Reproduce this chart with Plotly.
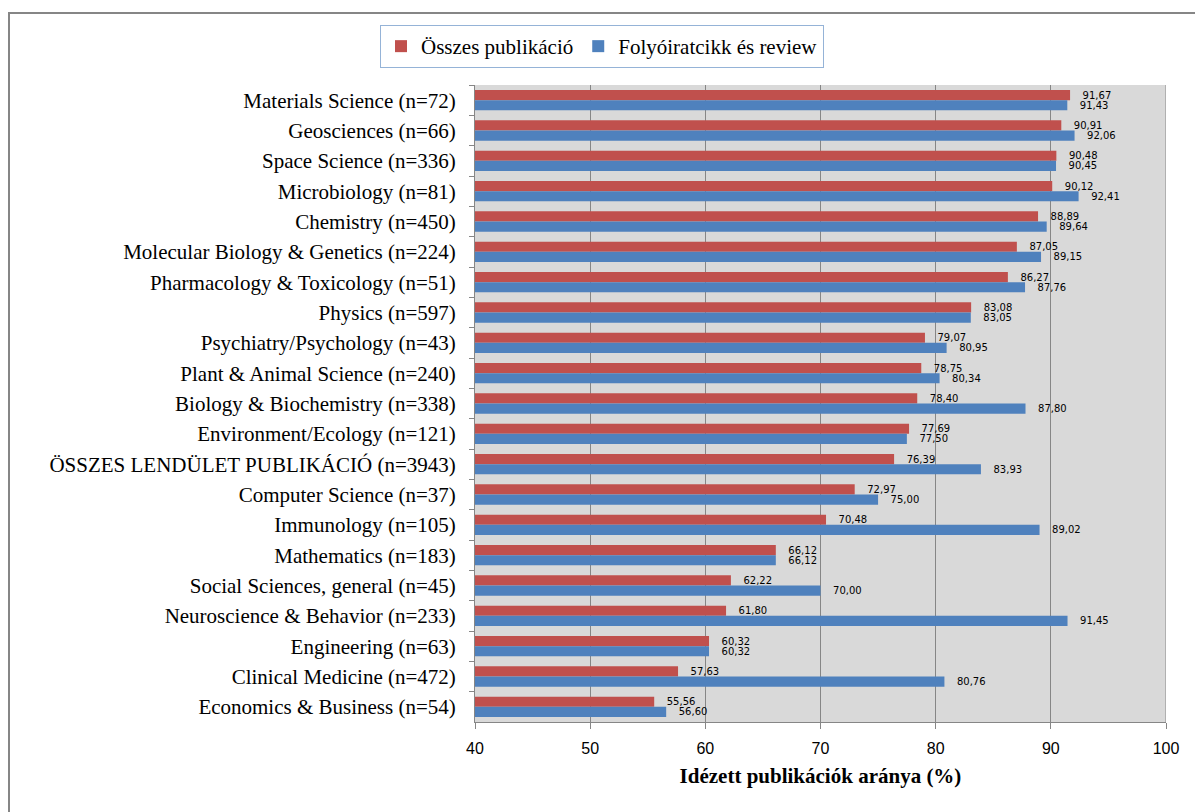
import plotly.graph_objects as go

categories = [
    "Materials Science (n=72)",
    "Geosciences (n=66)",
    "Space Science (n=336)",
    "Microbiology (n=81)",
    "Chemistry (n=450)",
    "Molecular Biology & Genetics (n=224)",
    "Pharmacology & Toxicology (n=51)",
    "Physics (n=597)",
    "Psychiatry/Psychology (n=43)",
    "Plant & Animal Science (n=240)",
    "Biology & Biochemistry (n=338)",
    "Environment/Ecology (n=121)",
    "ÖSSZES LENDÜLET PUBLIKÁCIÓ (n=3943)",
    "Computer Science (n=37)",
    "Immunology (n=105)",
    "Mathematics (n=183)",
    "Social Sciences, general (n=45)",
    "Neuroscience & Behavior (n=233)",
    "Engineering (n=63)",
    "Clinical Medicine (n=472)",
    "Economics & Business (n=54)",
]

osszes = [91.67, 90.91, 90.48, 90.12, 88.89, 87.05, 86.27, 83.08, 79.07, 78.75,
          78.40, 77.69, 76.39, 72.97, 70.48, 66.12, 62.22, 61.80, 60.32, 57.63, 55.56]
folyoirat = [91.43, 92.06, 90.45, 92.41, 89.64, 89.15, 87.76, 83.05, 80.95, 80.34,
             87.80, 77.50, 83.93, 75.00, 89.02, 66.12, 70.00, 91.45, 60.32, 80.76, 56.60]

x_ticks = [40, 50, 60, 70, 80, 90, 100]

series = [
    ("Összes publikáció", osszes, "#c0504d"),
    ("Folyóiratcikk és review", folyoirat, "#4f81bd"),
]


def hu(v):
    return f"{v:.2f}".replace(".", ",")


fig = go.Figure()
for name, vals, color in series:
    fig.add_trace(go.Bar(
        y=categories,
        x=vals,
        name=name,
        orientation="h",
        marker=dict(color=color, line=dict(width=0)),
        text=[hu(v) for v in vals],
        texttemplate="\u00a0\u00a0\u00a0%{text}",
        textposition="outside",
        constraintext="none",
        cliponaxis=False,
        textfont=dict(family="DejaVu Sans", size=10, color="#000000"),
    ))

W, H = 1195, 812
ML, MR, MT, MB = 475, 29, 85, 90
pw, ph = W - ML - MR, H - MT - MB


def px_to_paper(px, py):
    return (px - ML) / pw, (H - MB - py) / ph


bx0, by0 = px_to_paper(9, 13)
bx1, by1 = px_to_paper(W + 5, H + 5)

fig.update_layout(
    width=W,
    height=H,
    margin=dict(l=ML, r=MR, t=MT, b=MB),
    paper_bgcolor="white",
    plot_bgcolor="#d9d9d9",
    barmode="group",
    bargap=0.33,
    bargroupgap=0,
    font=dict(family="Liberation Serif", color="#000000"),
    legend=dict(
        orientation="h",
        x=px_to_paper(602, 0)[0],
        xanchor="center",
        y=px_to_paper(0, 25)[1],
        yanchor="top",
        bordercolor="#95b3d7",
        borderwidth=1,
        bgcolor="white",
        font=dict(family="Liberation Serif", size=21),
        traceorder="normal",
    ),
    xaxis=dict(
        range=[40, 100],
        tickvals=x_ticks,
        ticktext=[str(t) for t in x_ticks],
        showgrid=True,
        gridcolor="#868686",
        gridwidth=1,
        showline=True,
        linecolor="#868686",
        linewidth=1,
        ticks="outside",
        ticklen=6,
        tickcolor="#868686",
        ticklabelstandoff=6,
        tickfont=dict(family="Liberation Sans", size=16),
        zeroline=False,
        title=dict(
            text="<b>Idézett publikációk aránya (%)</b>",
            font=dict(family="Liberation Serif", size=21),
            standoff=12,
        ),
    ),
    yaxis=dict(
        autorange="reversed",
        showline=True,
        linecolor="#868686",
        linewidth=1,
        ticks="outside",
        tickson="boundaries",
        ticklen=5,
        tickcolor="#868686",
        ticklabelstandoff=14,
        tickfont=dict(family="Liberation Serif", size=21),
        showgrid=False,
    ),
    shapes=[
        dict(type="line", xref="x", yref="paper", x0=100, x1=100, y0=0, y1=1,
             line=dict(color="#868686", width=1)),
        dict(type="rect", xref="paper", yref="paper", x0=bx0, x1=bx1, y0=by1, y1=by0,
             line=dict(color="#868686", width=2), layer="below"),
    ],
)

fig.write_html("out.html")
